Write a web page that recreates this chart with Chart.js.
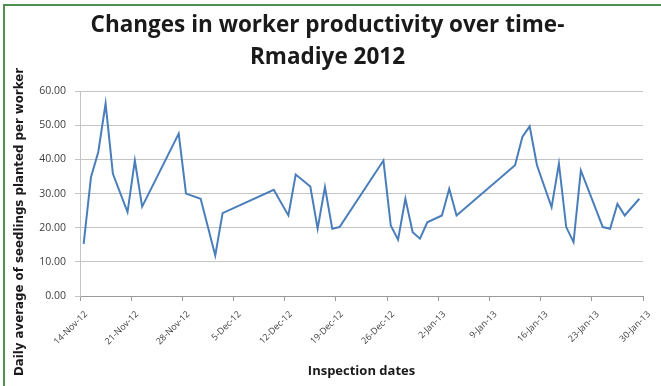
<!DOCTYPE html>
<html>
<head>
<meta charset="utf-8">
<script src="https://cdn.jsdelivr.net/npm/chart.js@4.4.1/dist/chart.umd.min.js"></script>
<style>
  html, body { margin: 0; padding: 0; background: #fff; }
  #wrap { position: relative; width: 661px; height: 386px; overflow: hidden; }
  #frame { position: absolute; left: 3px; top: 4px; width: 700px; height: 400px;
           border-top: 2px solid #4f8f4f; border-left: 2px solid #4f8f4f; pointer-events: none; }
  canvas { position: absolute; left: 0; top: 0; }
</style>
</head>
<body>
<div id="wrap">
  <canvas id="c" width="661" height="386"></canvas>
  <div id="frame"></div>
</div>
<script>
// Days since 14-Nov-12 for each inspection
const inspectionDays = [0, 1, 2, 3, 4, 6, 7, 8, 13, 14, 16, 18, 19, 26, 28, 29, 31, 32, 33, 34, 35,
  41, 42, 43, 44, 45, 46, 47, 49, 50, 51, 59, 60, 61, 62, 64, 65, 66, 67, 68, 71, 72, 73, 74, 76];
// Daily average of seedlings planted per worker
const productivity = [15.3, 34.8, 42.2, 56.4, 35.8, 24.6, 39.7, 26.2, 47.6, 30.0, 28.5, 11.9, 24.3,
  31.1, 23.6, 35.6, 32.1, 19.7, 31.9, 19.7, 20.2,
  39.7, 20.7, 16.5, 28.5, 18.7, 16.8, 21.6, 23.6, 31.4, 23.6,
  38.3, 46.6, 49.7, 38.3, 26.0, 38.8, 20.2, 15.8, 36.8, 20.2, 19.7, 27.0, 23.6, 28.5];
const dateTickLabels = ['14-Nov-12', '21-Nov-12', '28-Nov-12', '5-Dec-12', '12-Dec-12', '19-Dec-12',
  '26-Dec-12', '2-Jan-13', '9-Jan-13', '16-Jan-13', '23-Jan-13', '30-Jan-13'];
const titleLines = ['Changes in worker productivity over time-', 'Rmadiye 2012'];
const yTitle = 'Daily average of seedlings planted per worker';
const xTitle = 'Inspection dates';

const points = inspectionDays.map((d, i) => ({ x: d + 0.5, y: productivity[i] }));
const FONT = '"Open Sans", Lato, sans-serif';

// Vertical axis title, drawn on the canvas below the plot's vertical centre as in the original
const yTitlePlugin = {
  id: 'yTitlePlugin',
  afterDraw(chart) {
    const ctx = chart.ctx;
    ctx.save();
    ctx.translate(20, 222);
    ctx.rotate(-Math.PI / 2);
    ctx.font = 'bold 11.8px "DejaVu Sans", sans-serif';
    ctx.fillStyle = '#1a1a1a';
    ctx.textAlign = 'center';
    ctx.textBaseline = 'middle';
    ctx.fillText(yTitle, 0, 0);
    ctx.restore();
  }
};

new Chart(document.getElementById('c'), {
  type: 'line',
  data: {
    datasets: [{
      data: points,
      borderColor: '#4a7ebb',
      borderWidth: 2,
      pointRadius: 0,
      tension: 0,
      fill: false
    }]
  },
  plugins: [yTitlePlugin],
  options: {
    responsive: false,
    animation: false,
    devicePixelRatio: 1,
    layout: { padding: { left: 12, right: 18, top: 0, bottom: 6 } },
    plugins: {
      legend: { display: false },
      tooltip: { enabled: false },
      title: {
        display: true,
        text: titleLines,
        color: '#1a1a1a',
        font: { family: FONT, size: 22.5, weight: 'bold', lineHeight: 1.45 },
        padding: { top: 9, bottom: 17 }
      }
    },
    scales: {
      x: {
        type: 'linear',
        min: 0,
        max: 77,
        afterFit: (s) => { s.height = 84; },
        afterBuildTicks: (s) => { s.ticks = dateTickLabels.map((_, i) => ({ value: i * 7 })); },
        ticks: {
          autoSkip: false,
          minRotation: 45,
          maxRotation: 45,
          padding: 8,
          labelOffset: 6,
          color: '#404040',
          font: { family: FONT, size: 9 },
          callback: (v) => dateTickLabels[Math.round(v / 7)]
        },
        grid: { drawOnChartArea: false, drawTicks: true, tickLength: 5, color: '#9a9a9a' },
        border: { display: true, color: '#9a9a9a', width: 1 },
        title: {
          display: true,
          text: xTitle,
          color: '#1a1a1a',
          font: { family: FONT, size: 13, weight: 'bold' },
          padding: { top: 0, bottom: 1 }
        }
      },
      y: {
        min: 0,
        max: 60,
        afterFit: (s) => { s.width = 68; },
        ticks: {
          stepSize: 10,
          padding: 9,
          color: '#404040',
          font: { family: FONT, size: 10.5 },
          callback: (v) => v.toFixed(2)
        },
        grid: { color: '#c4c4c4', lineWidth: 1, tickLength: 5, drawTicks: true },
        border: { display: true, color: '#c4c4c4' },
        title: { display: false }
      }
    }
  }
});
</script>
</body>
</html>
